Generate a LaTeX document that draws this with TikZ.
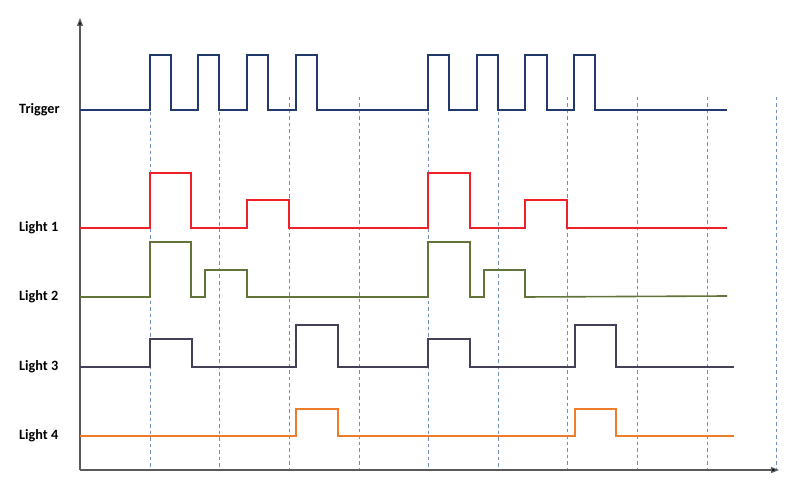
\documentclass[tikz,border=0pt]{standalone}
\usepackage{fontspec}
\setmainfont{Carlito}
\usetikzlibrary{arrows.meta}
\definecolor{trigc}{RGB}{33,57,108}
\definecolor{redc}{RGB}{238,32,40}
\definecolor{greenc}{RGB}{98,116,58}
\definecolor{l3c}{RGB}{68,64,88}
\definecolor{orc}{RGB}{238,124,40}
\definecolor{dashc}{RGB}{112,142,186}
\definecolor{axisc}{RGB}{90,90,90}
\begin{document}
\begin{tikzpicture}[x=1pt,y=-1pt,
  sig/.style={line width=1.6pt,line join=miter},
  grid/.style={draw=dashc,line width=0.8pt,dash pattern=on 3.5pt off 3pt},
  axisline/.style={draw=axisc,line width=1.3pt,-{Triangle[length=8pt,width=6pt,fill=black]}},
  lbl/.style={anchor=west,font=\fontsize{14.2}{17}\selectfont\bfseries,inner sep=0pt}]
\useasboundingbox (0,0) rectangle (800,494);
% dashed guides
\foreach \x/\y in {150/112,219/112,289/97,359/97,428/112,498/112,567/97,637/97,707/97,776/97}
  \draw[grid] (\x,\y) -- (\x,470);
% axes
\coordinate (origin) at (80,470);
\coordinate (ytop) at (80,18);
\coordinate (xend) at (779,470);
\draw[axisline] (origin) -- (ytop);
\draw[axisline] (origin) -- (xend);
% labels
\node[lbl] (ltrig) at (19,110) {Trigger};
\node[lbl] (l1) at (19,228) {Light 1};
\node[lbl] (l2) at (19,297) {Light 2};
\node[lbl] (l3) at (19,367) {Light 3};
\node[lbl] (l4) at (19,436) {Light 4};
% Trigger
\draw[sig,trigc] (80,110) -- (150,110) -- (150,55) -- (171,55) -- (171,110) -- (198,110) -- (198,55) -- (219,55) -- (219,110) -- (247,110) -- (247,55) -- (268,55) -- (268,110) -- (296,110) -- (296,55) -- (317,55) -- (317,110) -- (428,110) -- (428,55) -- (449,55) -- (449,110) -- (477,110) -- (477,55) -- (498,55) -- (498,110) -- (525,110) -- (525,55) -- (547,55) -- (547,110) -- (574,110) -- (574,55) -- (595,55) -- (595,110) -- (727,110);
% Light 1
\draw[sig,redc] (80,228) -- (150,228) -- (150,173) -- (191,173) -- (191,228) -- (247,228) -- (247,200) -- (289,200) -- (289,228) -- (428,228) -- (428,173) -- (470,173) -- (470,228) -- (525,228) -- (525,200) -- (567,200) -- (567,228) -- (727,228);
% Light 2
\draw[sig,greenc] (80,297) -- (150,297) -- (150,242) -- (191,242) -- (191,297) -- (205,297) -- (205,270) -- (247,270) -- (247,297) -- (428,297) -- (428,242) -- (470,242) -- (470,297) -- (484,297) -- (484,270) -- (525,270) -- (525,297) -- (727,296);
% Light 3
\draw[sig,l3c] (80,367) -- (150,367) -- (150,339) -- (192,339) -- (192,367) -- (296,367) -- (296,325) -- (338,325) -- (338,367) -- (428,367) -- (428,339) -- (470,339) -- (470,367) -- (575,367) -- (575,325) -- (616,325) -- (616,367) -- (734,367);
% Light 4
\draw[sig,orc] (80,436) -- (296,436) -- (296,409) -- (338,409) -- (338,436) -- (575,436) -- (575,409) -- (616,409) -- (616,436) -- (734,436);
\end{tikzpicture}
\end{document}
